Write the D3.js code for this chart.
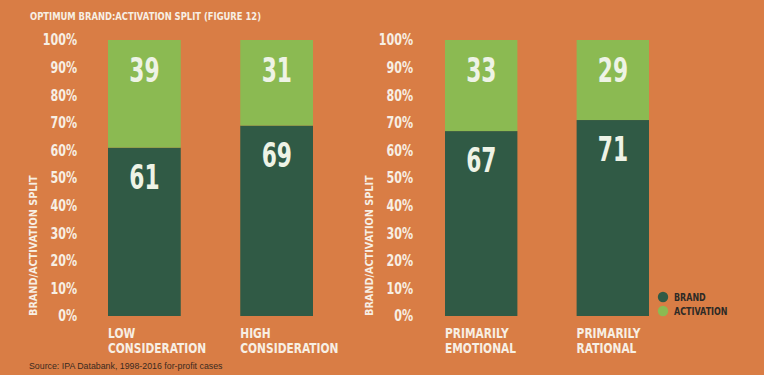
<!DOCTYPE html>
<html>
<head>
<meta charset="utf-8">
<script src="https://cdn.jsdelivr.net/npm/d3@7"></script>
<style>
  html, body { margin: 0; padding: 0; background: #fff; }
  svg { display: block; }
  .cond { font-family: "DejaVu Sans", sans-serif; font-weight: bold; }
  .src { font-family: "Liberation Sans", Arial, sans-serif; font-weight: normal; }
</style>
</head>
<body>
<div id="chart"></div>
<script>
// Data
const categories = ["LOW\nCONSIDERATION", "HIGH\nCONSIDERATION", "PRIMARILY\nEMOTIONAL", "PRIMARILY\nRATIONAL"];
const groups = [0, 0, 1, 1];
const brandValues = [61, 69, 67, 71];
const activationValues = [39, 31, 33, 29];
const yTicks = [0, 10, 20, 30, 40, 50, 60, 70, 80, 90, 100];
const seriesNames = ["BRAND", "ACTIVATION"];

const config = {
  width: 766,
  height: 377,
  bg: "#d97d45",
  brandColor: "#305a45",
  activationColor: "#8bba52",
  textColor: "#f7efe4",
  labelColor: "#eef3e6",
};

const { width, height } = config;

// squeeze text horizontally to mimic the condensed face of the original
function condense(sel, factor) {
  sel.each(function () {
    const w = this.getComputedTextLength();
    d3.select(this)
      .attr("textLength", w * factor)
      .attr("lengthAdjust", "spacingAndGlyphs");
  });
}

const svg = d3.select("#chart")
  .append("svg")
  .attr("width", width)
  .attr("height", height);

// background
svg.append("rect")
  .attr("x", 0).attr("y", 0)
  .attr("width", 764).attr("height", 375)
  .attr("fill", config.bg);

// Title
svg.append("text")
  .attr("class", "cond")
  .attr("x", 30).attr("y", 20)
  .attr("font-size", "10.5px")
  .attr("fill", config.textColor)
  .text("OPTIMUM BRAND:ACTIVATION SPLIT (FIGURE 12)")
  .call(condense, 0.8);

const yScale = d3.scaleLinear().domain([0, 100]).range([316, 40]);

// one x scale per panel
const panels = [
  { x0: 108, x1: 313, axisX: 77 },
  { x0: 445, x1: 649, axisX: 413 },
];

const data = categories.map((c, i) => ({
  cat: c,
  group: groups[i],
  brand: brandValues[i],
  activation: activationValues[i],
}));

panels.forEach((p, gi) => {
  const rows = data.filter((d) => d.group === gi);
  const xScale = d3.scaleBand()
    .domain(rows.map((d) => d.cat))
    .range([p.x0, p.x1])
    .paddingInner(0.45)
    .paddingOuter(0);

  const g = svg.append("g");

  // Axis
  const axis = g.append("g")
    .attr("transform", `translate(${p.axisX},0)`)
    .call(d3.axisLeft(yScale).tickValues(yTicks).tickSize(0).tickPadding(0).tickFormat((d) => d + "%"));
  axis.select(".domain").remove();
  axis.attr("font-family", null).attr("font-size", null);
  axis.selectAll("text")
    .attr("class", "cond")
    .attr("fill", config.textColor)
    .attr("font-size", "15px")
    .call(condense, 0.74);

  // Axis title
  g.append("text")
    .attr("class", "cond")
    .attr("transform", `translate(${p.axisX - 44},${yScale(0)}) rotate(-90)`)
    .attr("dy", "0.35em")
    .attr("font-size", "11px")
    .attr("fill", config.textColor)
    .text("BRAND/ACTIVATION SPLIT")
    .call(condense, 0.88);

  // Brand bars
  g.selectAll(".brand")
    .data(rows)
    .join("rect")
    .attr("class", "brand")
    .attr("x", (d) => xScale(d.cat))
    .attr("y", (d) => yScale(d.brand))
    .attr("width", xScale.bandwidth())
    .attr("height", (d) => yScale(0) - yScale(d.brand))
    .attr("fill", config.brandColor);

  // Activation bars
  g.selectAll(".activation")
    .data(rows)
    .join("rect")
    .attr("class", "activation")
    .attr("x", (d) => xScale(d.cat))
    .attr("y", (d) => yScale(100))
    .attr("width", xScale.bandwidth())
    .attr("height", (d) => yScale(d.brand) - yScale(100))
    .attr("fill", config.activationColor);

  // Value labels near top of each segment
  g.selectAll(".act-label")
    .data(rows)
    .join("text")
    .attr("class", "cond")
    .attr("x", (d) => xScale(d.cat) + xScale.bandwidth() / 2 - 15)
    .attr("y", (d) => yScale(100) + 30)
    .attr("dy", "0.36em")
    .attr("font-size", "34px")
    .attr("fill", config.labelColor)
    .text((d) => d.activation)
    .call(condense, 0.64);

  g.selectAll(".brand-label")
    .data(rows)
    .join("text")
    .attr("class", "cond")
    .attr("x", (d) => xScale(d.cat) + xScale.bandwidth() / 2 - 15)
    .attr("y", (d) => yScale(d.brand) + 29)
    .attr("dy", "0.36em")
    .attr("font-size", "34px")
    .attr("fill", config.labelColor)
    .text((d) => d.brand)
    .call(condense, 0.64);

  // Category labels, one text per line
  rows.forEach((d) => {
    d.cat.split("\n").forEach((line, li) => {
      g.append("text")
        .attr("class", "cond")
        .attr("x", xScale(d.cat))
        .attr("y", 338 + li * 15)
        .attr("font-size", "14px")
        .attr("fill", config.textColor)
        .text(line)
        .call(condense, 0.76);
    });
  });
});

// Legend
const legend = svg.append("g").attr("transform", "translate(663,297)");
seriesNames.forEach((name, i) => {
  legend.append("circle")
    .attr("cx", 0).attr("cy", i * 14)
    .attr("r", 5.2)
    .attr("fill", i === 0 ? config.brandColor : config.activationColor);
  legend.append("text")
    .attr("class", "cond")
    .attr("x", 11).attr("y", i * 14)
    .attr("dy", "0.36em")
    .attr("font-size", "10.5px")
    .attr("fill", "#2d2a26")
    .text(name)
    .call(condense, 0.76);
});

// Source
svg.append("text")
  .attr("class", "src")
  .attr("x", 29).attr("y", 369)
  .attr("font-size", "8.8px")
  .attr("fill", "#3a2a20")
  .text("Source: IPA Databank, 1998-2016 for-profit cases");
</script>
</body>
</html>
